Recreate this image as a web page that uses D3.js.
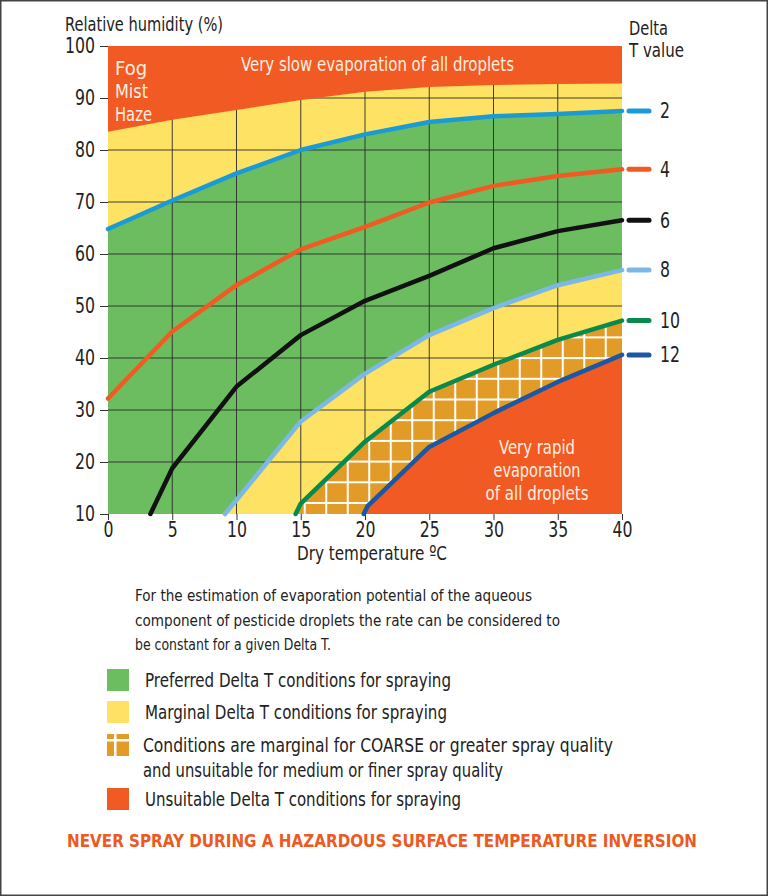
<!DOCTYPE html>
<html><head><meta charset="utf-8">
<script src="https://cdn.jsdelivr.net/npm/d3@7"></script>
<style>
html,body{margin:0;padding:0;background:#fff;}
svg text{font-family:"DejaVu Sans Condensed","DejaVu Sans",sans-serif;font-stretch:condensed;}
</style></head>
<body>
<svg id="c" width="768" height="896"></svg>
<script>
// ---- data ----
const temps = [0, 5, 10, 15, 20, 25, 30, 35, 40];
const xTicks = [0, 5, 10, 15, 20, 25, 30, 35, 40];
const yTicks = [10, 20, 30, 40, 50, 60, 70, 80, 90, 100];
const fogBoundary = [83.5, 85.8, 87.7, 89.6, 91.2, 92.1, 92.5, 92.7, 92.8];
const dt2 = [64.8, 70.3, 75.5, 80.0, 83.0, 85.4, 86.5, 86.9, 87.5];
const dt4 = [32.2, 45.1, 54.0, 60.9, 65.2, 69.9, 73.1, 75.0, 76.3];
const dt6T = [3.3, 5, 10, 15, 20, 25, 30, 35, 40];
const dt6 = [10, 18.8, 34.5, 44.4, 51.0, 55.8, 61.1, 64.4, 66.5];
const dt8T = [9.1, 10, 15, 20, 25, 30, 35, 40];
const dt8 = [10, 12.7, 27.8, 37.0, 44.4, 49.6, 54.0, 56.9];
const dt10T = [14.6, 15, 20, 25, 30, 35, 40];
const dt10 = [10, 12.0, 23.9, 33.5, 38.7, 43.5, 47.2];
const dt12T = [19.9, 20.2, 25, 30, 35, 40];
const dt12 = [10, 11.5, 22.9, 29.4, 35.4, 40.6];
const deltaLabels = ["2", "4", "6", "8", "10", "12"];
const noteLines = [
  "For the estimation of evaporation potential of the aqueous",
  "component of pesticide droplets the rate can be considered to",
  "be constant for a given Delta T."
];
const legendItems = [
  {key: "green", lines: ["Preferred Delta T conditions for spraying"]},
  {key: "yellow", lines: ["Marginal Delta T conditions for spraying"]},
  {key: "hatch", lines: ["Conditions are marginal for COARSE or greater spray quality", "and unsuitable for medium or finer spray quality"]},
  {key: "orange", lines: ["Unsuitable Delta T conditions for spraying"]}
];

// ---- styles ----
const C = {green: "#6cbd60", yellow: "#fde263", orange: "#f15a22", hatch: "#e29b26",
  l2: "#1a9bd7", l4: "#f15a22", l6: "#111111", l8: "#7cb8e6", l10: "#078a4c", l12: "#1b58a4", txt: "#222"};

const svg = d3.select("#c");
const W = 768, H = 896;
const m = {l: 108, t: 46, r: 146, b: 382};
const x = d3.scaleLinear().domain([0, 40]).range([m.l, W - m.r]);
const y = d3.scaleLinear().domain([10, 100]).range([H - m.b, m.t]);

svg.append("rect").attr("x", 0.75).attr("y", 0.75).attr("width", W - 1.5).attr("height", H - 1.5)
  .attr("fill", "#fff").attr("stroke", "#444").attr("stroke-width", 1.5);

// fit a text to a target width (matches the condensed face of the reference)
function fit(sel, w) {
  const n = sel.node();
  const L = n.getComputedTextLength();
  if (L > 0 && Math.abs(L - w) > 2) sel.attr("textLength", w).attr("lengthAdjust", "spacingAndGlyphs");
  return sel;
}

const defs = svg.append("defs");
const pat = defs.append("pattern").attr("id", "hatch").attr("patternUnits", "userSpaceOnUse")
  .attr("width", 21.5).attr("height", 20.7).attr("x", x(15) + 3).attr("y", y(10) - 12);
pat.append("rect").attr("width", 21.5).attr("height", 20.7).attr("fill", C.hatch);
pat.append("rect").attr("x", 0).attr("y", 0).attr("width", 2).attr("height", 20.7).attr("fill", "#fff");
pat.append("rect").attr("x", 0).attr("y", 0).attr("width", 21.5).attr("height", 2).attr("fill", "#fff");
defs.append("clipPath").attr("id", "plotclip").append("rect")
  .attr("x", x(0)).attr("y", y(100)).attr("width", x(40) - x(0)).attr("height", y(10) - y(100));

const toPts = (ts, vs) => ts.map((t, i) => [t, vs[i]]);
const p2 = toPts(temps, dt2), p4 = toPts(temps, dt4), p6 = toPts(dt6T, dt6),
      p8 = toPts(dt8T, dt8), p10 = toPts(dt10T, dt10), p12 = toPts(dt12T, dt12),
      pf = toPts(temps, fogBoundary);

const areaBelow = d3.area().x(d => x(d[0])).y0(y(10)).y1(d => y(d[1]));
const areaAbove = d3.area().x(d => x(d[0])).y0(y(100)).y1(d => y(d[1]));
const line = d3.line().x(d => x(d[0])).y(d => y(d[1]));

const g = svg.append("g").attr("clip-path", "url(#plotclip)");
g.append("rect").attr("x", x(0)).attr("y", y(100)).attr("width", x(40) - x(0)).attr("height", y(10) - y(100)).attr("fill", C.green);
g.append("path").attr("d", areaAbove(p2)).attr("fill", C.yellow);
g.append("path").attr("d", areaBelow(p8)).attr("fill", C.yellow);
const grid = g.append("g");
xTicks.slice(1, -1).forEach(t => grid.append("line").attr("x1", x(t)).attr("x2", x(t)).attr("y1", y(10)).attr("y2", y(100))
  .attr("stroke", "#2a2a2a").attr("stroke-width", 0.9));
yTicks.slice(1, -1).forEach(t => grid.append("line").attr("x1", x(0)).attr("x2", x(40)).attr("y1", y(t)).attr("y2", y(t))
  .attr("stroke", "#2a2a2a").attr("stroke-width", 0.9));
g.append("path").attr("d", areaBelow(p10)).attr("fill", "url(#hatch)");
g.append("path").attr("d", areaBelow(p12)).attr("fill", C.orange);
g.append("path").attr("d", areaAbove(pf)).attr("fill", C.orange);

// axes ticks
const axY = svg.append("g").attr("transform", `translate(${x(0)},0)`)
  .call(d3.axisLeft(y).tickValues(yTicks).tickSize(8).tickPadding(5).tickFormat(d3.format("d")));
const axX = svg.append("g").attr("transform", `translate(0,${y(10)})`)
  .call(d3.axisBottom(x).tickValues(xTicks).tickSize(6).tickPadding(2).tickFormat(d3.format("d")));
[axY, axX].forEach(a => {
  a.select(".domain").remove();
  a.selectAll(".tick line").attr("stroke", "#333").attr("stroke-width", 1);
  a.selectAll("text").attr("font-size", 21).attr("fill", C.txt).attr("font-family", null);
});
axY.selectAll("text").each(function() { fit(d3.select(this), this.textContent.length * 10); });
axX.selectAll("text").each(function() { fit(d3.select(this), this.textContent.length * 10); });

// curves
const series = [[p2, C.l2], [p4, C.l4], [p6, C.l6], [p8, C.l8], [p10, C.l10], [p12, C.l12]];
series.forEach(([p, c], i) => {
  svg.append("path").attr("d", line(p)).attr("fill", "none").attr("stroke", c).attr("stroke-width", 4.5)
    .attr("stroke-linecap", "round").attr("stroke-linejoin", "round");
  const last = p[p.length - 1];
  svg.append("line").attr("x1", x(40) + 7).attr("x2", x(40) + 27).attr("y1", y(last[1])).attr("y2", y(last[1]))
    .attr("stroke", c).attr("stroke-width", 5).attr("stroke-linecap", "round");
  const t = svg.append("text").attr("x", x(40) + 38).attr("y", y(last[1])).attr("dy", "0.35em")
    .attr("font-size", 21).attr("fill", C.txt).text(deltaLabels[i]);
  fit(t, deltaLabels[i].length * 10);
});

// titles
fit(svg.append("text").attr("x", 65).attr("y", 31).attr("font-size", 20).attr("fill", C.txt).text("Relative humidity (%)"), 158);
fit(svg.append("text").attr("x", 629).attr("y", 35).attr("font-size", 20).attr("fill", C.txt).text("Delta"), 39);
fit(svg.append("text").attr("x", 629).attr("y", 57).attr("font-size", 20).attr("fill", C.txt).text("T value"), 55);
fit(svg.append("text").attr("x", 297).attr("y", 560).attr("font-size", 20).attr("fill", C.txt).text("Dry temperature ºC"), 150);

// in-chart text
const wt = "#fdeee0";
[["Fog", 32], ["Mist", 33], ["Haze", 37]].forEach(([s, w], i) => fit(svg.append("text").attr("x", 115).attr("y", 75 + i * 23)
  .attr("font-size", 20).attr("fill", wt).text(s), w));
fit(svg.append("text").attr("x", 241).attr("y", 71).attr("font-size", 20).attr("fill", wt)
  .text("Very slow evaporation of all droplets"), 273);
[["Very rapid", 76], ["evaporation", 87], ["of all droplets", 103]].forEach(([s, w], i) =>
  fit(svg.append("text").attr("x", 537 - w / 2).attr("y", 454 + i * 23).attr("font-size", 20).attr("fill", wt).text(s), w));

// note
[397, 425, 196].forEach((w, i) => fit(svg.append("text").attr("x", 135).attr("y", 601 + i * 24.5)
  .attr("font-size", 16.5).attr("fill", C.txt).text(noteLines[i]), w));

// legend
const legY = [680, 712, 745, 799];
const legW = [[306], [302], [470, 360], [316]];
legendItems.forEach((it, i) => {
  const cy = legY[i];
  const gx = 107, s = 22, gy = cy - 11;
  if (it.key === "hatch") {
    svg.append("rect").attr("x", gx).attr("y", gy).attr("width", s).attr("height", s).attr("fill", C.hatch);
    svg.append("rect").attr("x", gx).attr("y", gy + 5).attr("width", s).attr("height", 2.5).attr("fill", "#fff");
    svg.append("rect").attr("x", gx + 7).attr("y", gy).attr("width", 2.5).attr("height", s).attr("fill", "#fff");
  } else {
    svg.append("rect").attr("x", gx).attr("y", gy).attr("width", s).attr("height", s).attr("fill", C[it.key]);
  }
  it.lines.forEach((l, j) => fit(svg.append("text").attr("x", it.key === "hatch" ? 143 : 145).attr("y", cy + 7 + j * 25)
    .attr("font-size", 19).attr("fill", C.txt).text(l), legW[i][j]));
});

fit(svg.append("text").attr("x", 67).attr("y", 847).attr("font-size", 18)
  .attr("font-weight", "bold").attr("fill", "#ec5a24")
  .text("NEVER SPRAY DURING A HAZARDOUS SURFACE TEMPERATURE INVERSION"), 630);
</script>
</body></html>
